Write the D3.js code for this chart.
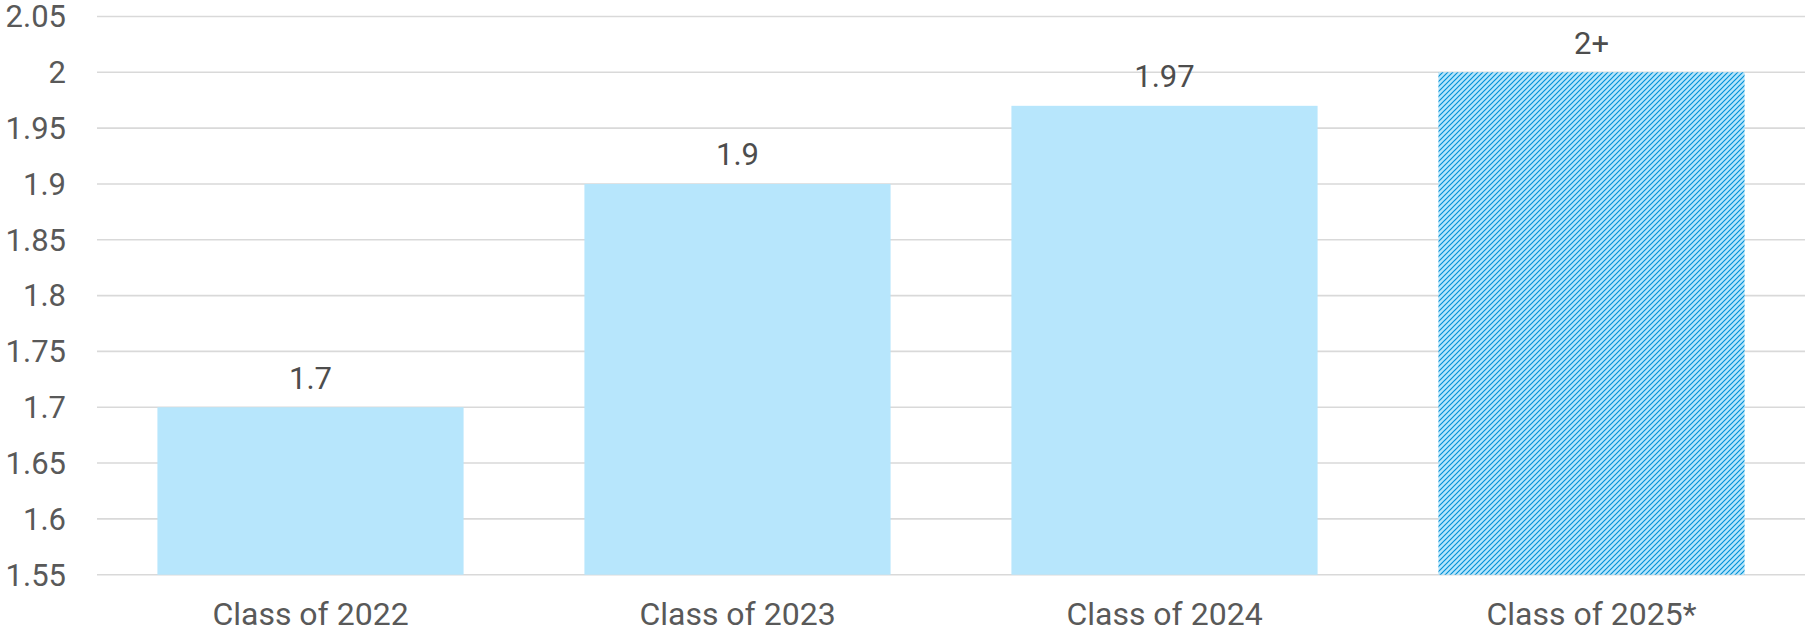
<!DOCTYPE html>
<html lang="en">
<head>
    <meta charset="UTF-8">
    <title>Class of chart</title>
    <script src="https://d3js.org/d3.v7.min.js"></script>
    <style>
        body { margin: 0; overflow: hidden; background-color: white; }
        svg { display: block; font-family: Roboto, "Noto Sans", sans-serif; }
    </style>
</head>
<body>
    <svg id="chart"></svg>

    <script>
        const width = 1806;
        const height = 629;

        // data
        const categories = ["Class of 2022", "Class of 2023", "Class of 2024", "Class of 2025*"];
        const values = [1.7, 1.9, 1.97, 2.0];
        const valueLabels = ["1.7", "1.9", "1.97", "2+"];
        const projected = [false, false, false, true];
        const yTicks = [1.55, 1.6, 1.65, 1.7, 1.75, 1.8, 1.85, 1.9, 1.95, 2, 2.05];

        const svg = d3.select("#chart")
            .attr("width", width)
            .attr("height", height);

        // hatch for the projected bar
        const pat = svg.append("defs").append("pattern")
            .attr("id", "hatch")
            .attr("patternUnits", "userSpaceOnUse")
            .attr("width", 5)
            .attr("height", 5);
        pat.append("rect")
            .attr("width", 5)
            .attr("height", 5)
            .attr("fill", "#b7e6fc");
        pat.append("path")
            .attr("d", "M-1,1 l2,-2 M0,5 l5,-5 M4,6 l2,-2")
            .attr("stroke", "#0091d8")
            .attr("stroke-width", 1.15);

        const x = d3.scaleBand()
            .domain(categories)
            .range([97, 1805])
            .paddingInner(0.283)
            .paddingOuter(0.1415);

        const y = d3.scaleLinear()
            .domain([1.55, 2.05])
            .range([574.7, 16.5]);

        // gridlines
        svg.append("g")
            .selectAll("line")
            .data(yTicks)
            .enter()
            .append("line")
            .attr("x1", 97)
            .attr("x2", 1805)
            .attr("y1", d => y(d))
            .attr("y2", d => y(d))
            .attr("stroke", "#d9d9d9")
            .attr("stroke-width", 1.6);

        // y tick labels
        svg.append("g")
            .selectAll("text")
            .data(yTicks)
            .enter()
            .append("text")
            .attr("x", 66)
            .attr("y", d => y(d))
            .attr("dy", "0.35em")
            .attr("text-anchor", "end")
            .attr("font-size", 31)
            .attr("fill", "#595959")
            .text(d => d3.format("~g")(d));

        const bars = categories.map((c, i) => ({
            cat: c, value: values[i], label: valueLabels[i], hatched: projected[i]
        }));

        // bars
        svg.append("g")
            .selectAll("rect")
            .data(bars)
            .enter()
            .append("rect")
            .attr("x", d => x(d.cat))
            .attr("width", x.bandwidth())
            .attr("y", d => y(d.value))
            .attr("height", d => y(1.55) - y(d.value))
            .attr("fill", d => d.hatched ? "url(#hatch)" : "#b7e6fc");

        // value labels
        svg.append("g")
            .selectAll("text")
            .data(bars)
            .enter()
            .append("text")
            .attr("x", d => x(d.cat) + x.bandwidth() / 2)
            .attr("y", d => y(d.value) - 18.5)
            .attr("text-anchor", "middle")
            .attr("font-size", 31)
            .attr("fill", "#4d4d4d")
            .text(d => d.label);

        // category labels
        svg.append("g")
            .selectAll("text")
            .data(categories)
            .enter()
            .append("text")
            .attr("x", d => x(d) + x.bandwidth() / 2)
            .attr("y", 625)
            .attr("text-anchor", "middle")
            .attr("font-size", 32)
            .attr("fill", "#595959")
            .text(d => d);
    </script>
</body>
</html>
